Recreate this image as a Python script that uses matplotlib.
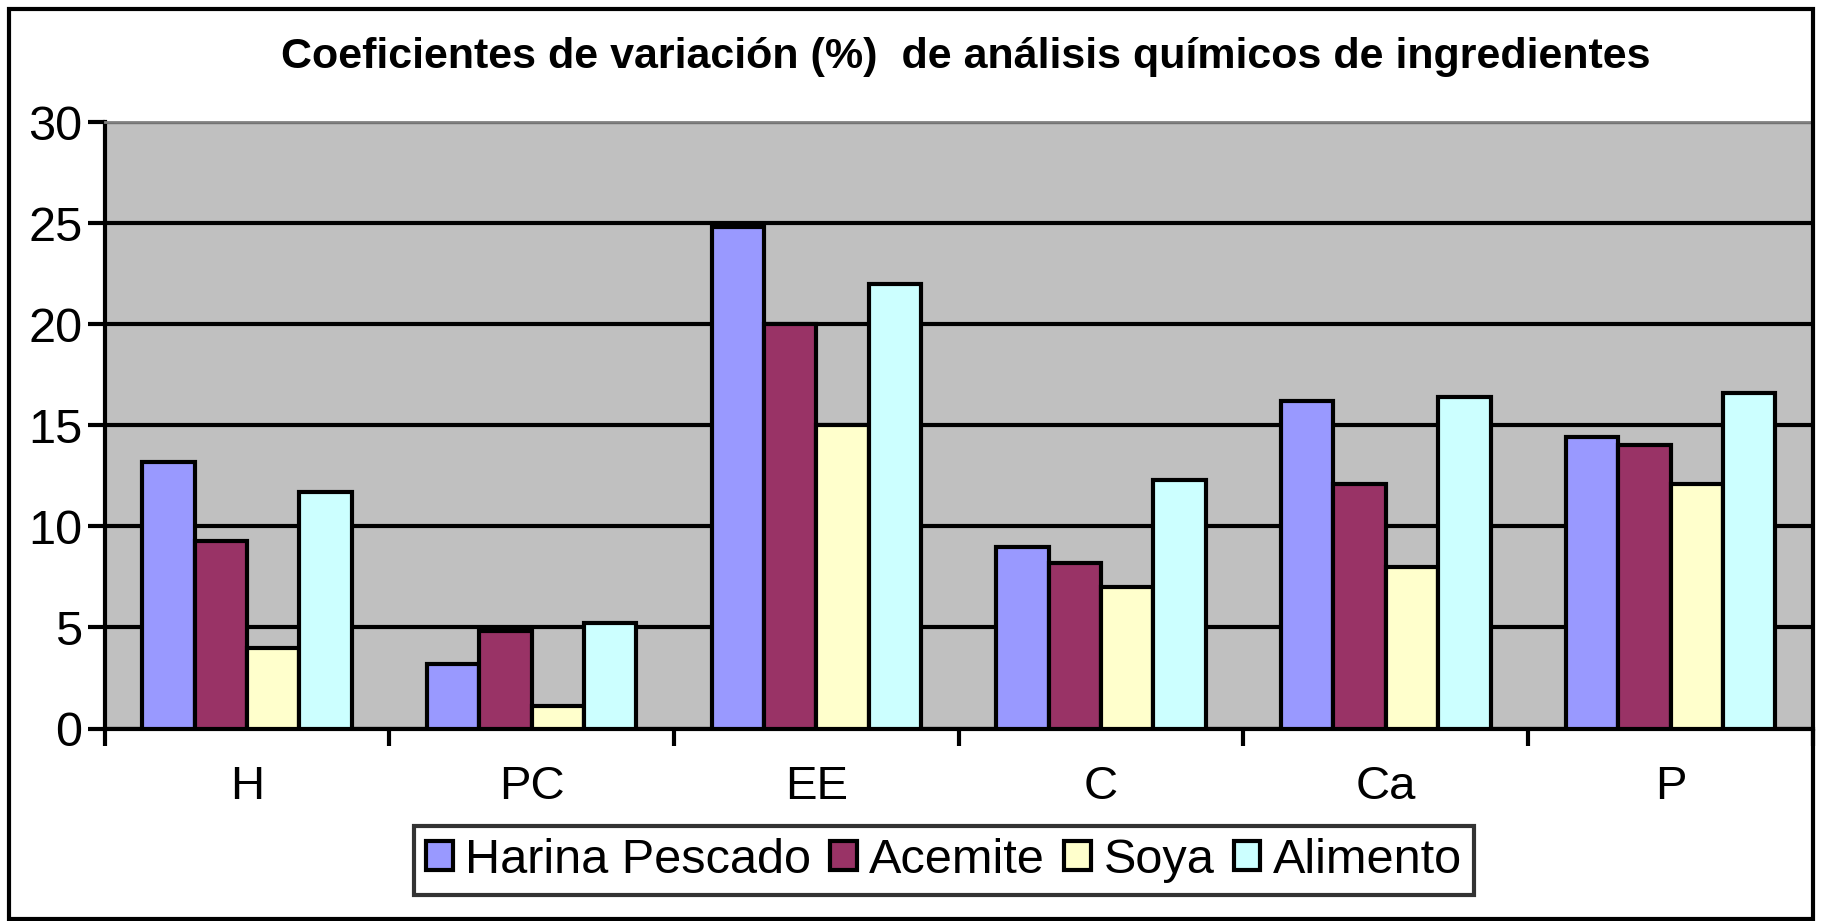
import matplotlib
matplotlib.use("Agg")
import matplotlib.pyplot as plt
import numpy as np
from matplotlib.patches import Rectangle

plt.rcParams['font.family'] = ['Liberation Sans', 'DejaVu Sans']

categories = ['H', 'PC', 'EE', 'C', 'Ca', 'P']
series_names = ['Harina Pescado', 'Acemite', 'Soya', 'Alimento']
harina = [13.2, 3.2, 24.8, 9.0, 16.2, 14.4]
acemite = [9.3, 4.8, 20.0, 8.2, 12.1, 14.0]
soya = [4.0, 1.1, 15.0, 7.0, 8.0, 12.1]
alimento = [11.7, 5.2, 22.0, 12.3, 16.4, 16.6]
colors = ['#9999FF', '#993366', '#FFFFCC', '#CCFFFF']

fig = plt.figure(figsize=(18.22, 9.21), dpi=100)
ax = fig.add_axes([0.0574, 0.209, 0.9376, 0.6585])
ax.set_facecolor('#C0C0C0')

x = np.arange(len(categories))
w = 0.184
for i, (vals, name) in enumerate(zip([harina, acemite, soya, alimento], series_names)):
    ax.bar(x + (i - 1.5) * w, vals, w, color=colors[i], edgecolor='black',
           linewidth=3, label=name, zorder=3)

ax.set_ylim(0, 30)
ax.set_xlim(-0.5, len(categories) - 0.5)
ax.set_yticks([0, 5, 10, 15, 20, 25, 30])
ax.yaxis.grid(True, color='black', linewidth=3, zorder=1)
ax.set_axisbelow(True)

# ticks at category boundaries, labels centered
ax.set_xticks(np.arange(len(categories) + 1) - 0.5)
ax.set_xticklabels([])
ax.set_xticks(x, minor=True)
ax.set_xticklabels(categories, minor=True, fontsize=34)
ax.tick_params(axis='x', which='minor', length=0, pad=26)
ax.tick_params(axis='x', which='major', length=12, width=3, direction='out')
ax.tick_params(axis='y', length=12, width=3, direction='out', labelsize=35, pad=4)

for s in ['top', 'right']:
    ax.spines[s].set_color('#808080')
    ax.spines[s].set_linewidth(2)
for s in ['left', 'bottom']:
    ax.spines[s].set_linewidth(3)

fig.text(0.53, 0.938, 'Coeficientes de variación (%)  de análisis químicos de ingredientes',
         ha='center', va='center', fontsize=31, fontweight='bold')

leg = fig.legend(loc='center', bbox_to_anchor=(0.518, 0.066), ncol=4, fontsize=35,
                 frameon=True, fancybox=False, edgecolor='black', handlelength=0.55,
                 handleheight=0.55, handletextpad=0.25, columnspacing=0.4,
                 borderpad=0.25)
leg.get_frame().set_linewidth(3)

fig.patches.append(Rectangle((0.005, 0.002), 0.99, 0.988, transform=fig.transFigure,
                             fill=False, edgecolor='black', linewidth=3))

fig.savefig('out.png', dpi=100)
